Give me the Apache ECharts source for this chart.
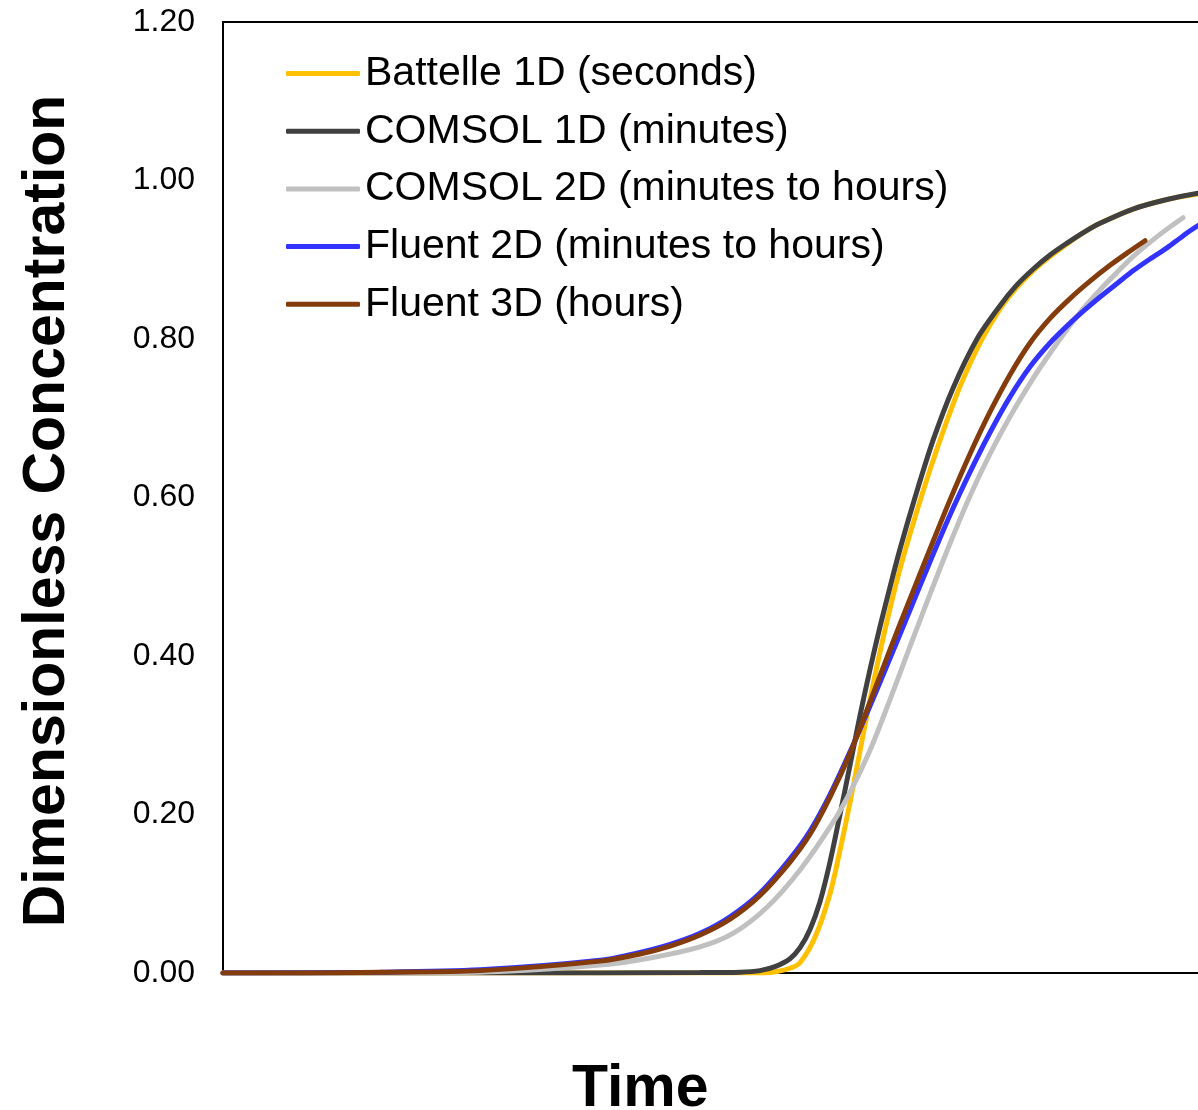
<!DOCTYPE html>
<html>
<head>
<meta charset="utf-8">
<script src="https://cdn.jsdelivr.net/npm/echarts@6/dist/echarts.min.js"></script>
<style>
html,body{margin:0;padding:0;background:#fff;overflow:hidden;}
#chart{width:1198px;height:1110px;}
</style>
</head>
<body>
<div id="chart"></div>
<script>
// Time in arbitrary units (0..1000), concentration dimensionless
const seriesNames = ["Battelle 1D (seconds)", "COMSOL 1D (minutes)", "COMSOL 2D (minutes to hours)", "Fluent 2D (minutes to hours)", "Fluent 3D (hours)"];
const yTicks = [0, 0.2, 0.4, 0.6, 0.8, 1.0, 1.2];

const battelleT = [0,477,537,554,567,577,592,607,617,627,637,647,657,667,677,692,707,722,737,757,777,793,810,827,844,860,877,910,944,975,1000];
const battelleC = [0,0,0,0.002,0.006,0.013,0.045,0.10,0.155,0.215,0.28,0.345,0.405,0.46,0.51,0.575,0.635,0.69,0.74,0.795,0.838,0.864,0.886,0.904,0.92,0.934,0.946,0.964,0.976,0.983,0.987];

const comsol1T = [0,277,477,517,537,552,567,577,587,597,607,617,627,637,647,657,667,677,692,710,730,754,777,793,810,827,844,860,877,910,944,975,1000];
const comsol1C = [0,0,0.0005,0.001,0.003,0.008,0.018,0.032,0.055,0.09,0.14,0.20,0.262,0.325,0.383,0.437,0.487,0.535,0.60,0.672,0.738,0.80,0.842,0.867,0.888,0.906,0.921,0.934,0.946,0.964,0.976,0.984,0.988];

const comsol2T = [0,177,277,377,427,477,510,544,577,610,627,647,667,687,707,727,747,767,787,810,827,844,860,877,894,910,937,960];
const comsol2C = [0,0,0.002,0.01,0.019,0.033,0.05,0.083,0.13,0.19,0.228,0.281,0.345,0.412,0.478,0.542,0.602,0.655,0.702,0.75,0.782,0.812,0.838,0.862,0.884,0.904,0.932,0.953];

const fluent2T = [0,157,257,377,417,447,477,507,537,567,587,607,627,647,667,687,707,727,747,767,787,807,827,847,862,877,894,910,927,944,960,975,1000];
const fluent2C = [0,0.001,0.004,0.016,0.026,0.036,0.05,0.071,0.101,0.144,0.179,0.225,0.279,0.337,0.397,0.458,0.519,0.578,0.632,0.682,0.727,0.765,0.795,0.82,0.837,0.853,0.87,0.886,0.901,0.915,0.93,0.943,0.956];

const fluent3T = [0,77,157,257,377,417,447,477,507,537,567,587,607,627,647,667,687,707,727,747,767,787,807,827,847,867,887,907,922];
const fluent3C = [0,0,0.001,0.003,0.015,0.024,0.034,0.048,0.068,0.098,0.14,0.175,0.222,0.277,0.342,0.408,0.472,0.535,0.597,0.655,0.708,0.755,0.795,0.826,0.851,0.873,0.893,0.911,0.924];

const colors = ["#FFC000", "#404040", "#C0C0C0", "#3333FF", "#843C0C"];
const FONT = "'Liberation Sans', Arial, sans-serif";

function zip(t, c) { return t.map((v, i) => [v, c[i]]); }
const allData = [zip(battelleT, battelleC), zip(comsol1T, comsol1C), zip(comsol2T, comsol2C), zip(fluent2T, fluent2C), zip(fluent3T, fluent3C)];

const chart = echarts.init(document.getElementById('chart'), null, {renderer: 'canvas'});
chart.setOption({
  animation: false,
  backgroundColor: '#fff',
  grid: {
    left: 223, top: 22, bottom: 137, right: -25,
    outerBoundsMode: 'none',
    show: true, borderColor: '#000', borderWidth: 2, backgroundColor: 'transparent'
  },
  legend: {
    show: true,
    orient: 'vertical',
    left: 286, top: 53, padding: 0,
    itemWidth: 74, itemHeight: 5, itemGap: 16.7,
    icon: 'roundRect',
    selectedMode: false,
    data: seriesNames,
    textStyle: {fontSize: 41, color: '#000', fontFamily: FONT, lineHeight: 41}
  },
  xAxis: {
    type: 'value', min: 0, max: 1000,
    axisLine: {show: true, lineStyle: {color: '#000', width: 2}},
    axisTick: {show: false}, axisLabel: {show: false}, splitLine: {show: false}
  },
  yAxis: {
    type: 'value', min: 0, max: 1.2, interval: 0.2,
    axisLine: {show: true, lineStyle: {color: '#000', width: 2}},
    axisTick: {show: false},
    splitLine: {show: false},
    axisLabel: {
      show: true, margin: 28, fontSize: 32, color: '#000', fontFamily: FONT,
      formatter: v => v.toFixed(2)
    }
  },
  graphic: [
    {type: 'text', top: 1060, left: 572, style: {text: 'Time', font: "bold 59px " + FONT, fill: '#000'}},
    {type: 'text', x: 48, y: 511, rotation: Math.PI / 2,
     style: {text: 'Dimensionless Concentration', font: "bold 59px " + FONT, fill: '#000', align: 'center', verticalAlign: 'middle'}}
  ],
  series: allData.map((d, i) => ({
    name: seriesNames[i],
    type: 'line',
    data: d,
    showSymbol: false,
    symbol: 'none',
    smooth: 0.3,
    color: colors[i],
    lineStyle: {color: colors[i], width: 5, cap: 'round'},
    z: 2 + i
  }))
});
</script>
</body>
</html>
